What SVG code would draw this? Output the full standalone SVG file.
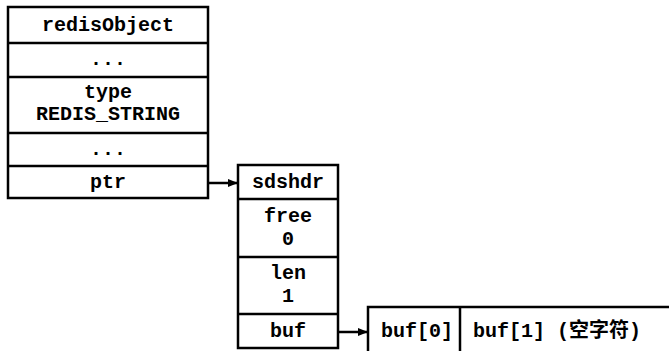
<svg xmlns="http://www.w3.org/2000/svg" width="669" height="351" viewBox="0 0 669 351">
<style>
.box{fill:#fff;stroke:#000;stroke-width:2.5}
.ln{stroke:#000;stroke-width:2.5;fill:none}
text{font-family:"Liberation Mono","Noto Sans CJK SC",monospace;font-weight:bold;font-size:20px;fill:#000}
.c{text-anchor:middle}
</style>
<defs>
<marker id="ah" markerWidth="10" markerHeight="10" refX="9" refY="5" orient="auto" markerUnits="userSpaceOnUse">
<path d="M0,1 L10,5 L0,9 Z" fill="#000"/>
</marker>
</defs>
<rect width="669" height="351" fill="#fff"/>
<g id="redisObject">
<rect class="box" x="8" y="7" width="200" height="191"/>
<line class="ln" x1="8" y1="43" x2="208" y2="43"/>
<line class="ln" x1="8" y1="77" x2="208" y2="77"/>
<line class="ln" x1="8" y1="133" x2="208" y2="133"/>
<line class="ln" x1="8" y1="166" x2="208" y2="166"/>
<text class="c" x="108" y="31">redisObject</text>
<text class="c" x="108" y="65">...</text>
<text class="c" x="108" y="98">type</text>
<text class="c" x="108" y="120">REDIS_STRING</text>
<text class="c" x="108" y="155">...</text>
<text class="c" x="108" y="188">ptr</text>
</g>
<g id="sdshdr">
<rect class="box" x="238" y="165" width="100" height="183"/>
<line class="ln" x1="238" y1="199" x2="338" y2="199"/>
<line class="ln" x1="238" y1="257" x2="338" y2="257"/>
<line class="ln" x1="238" y1="314" x2="338" y2="314"/>
<text class="c" x="288" y="188">sdshdr</text>
<text class="c" x="288" y="222">free</text>
<text class="c" x="288" y="245">0</text>
<text class="c" x="288" y="279">len</text>
<text class="c" x="288" y="302">1</text>
<text class="c" x="288" y="337">buf</text>
</g>
<g id="bufarray">
<rect class="box" x="368" y="307" width="320" height="60"/>
<line class="ln" x1="460" y1="307" x2="460" y2="351"/>
<text x="381" y="337">buf[0]</text>
<text x="473" y="337">buf[1] (空字符)</text>
</g>
<g id="connectors">
<line class="ln" x1="208" y1="183" x2="237" y2="183" marker-end="url(#ah)"/>
<line class="ln" x1="338" y1="332" x2="367" y2="332" marker-end="url(#ah)"/>
</g>
</svg>
